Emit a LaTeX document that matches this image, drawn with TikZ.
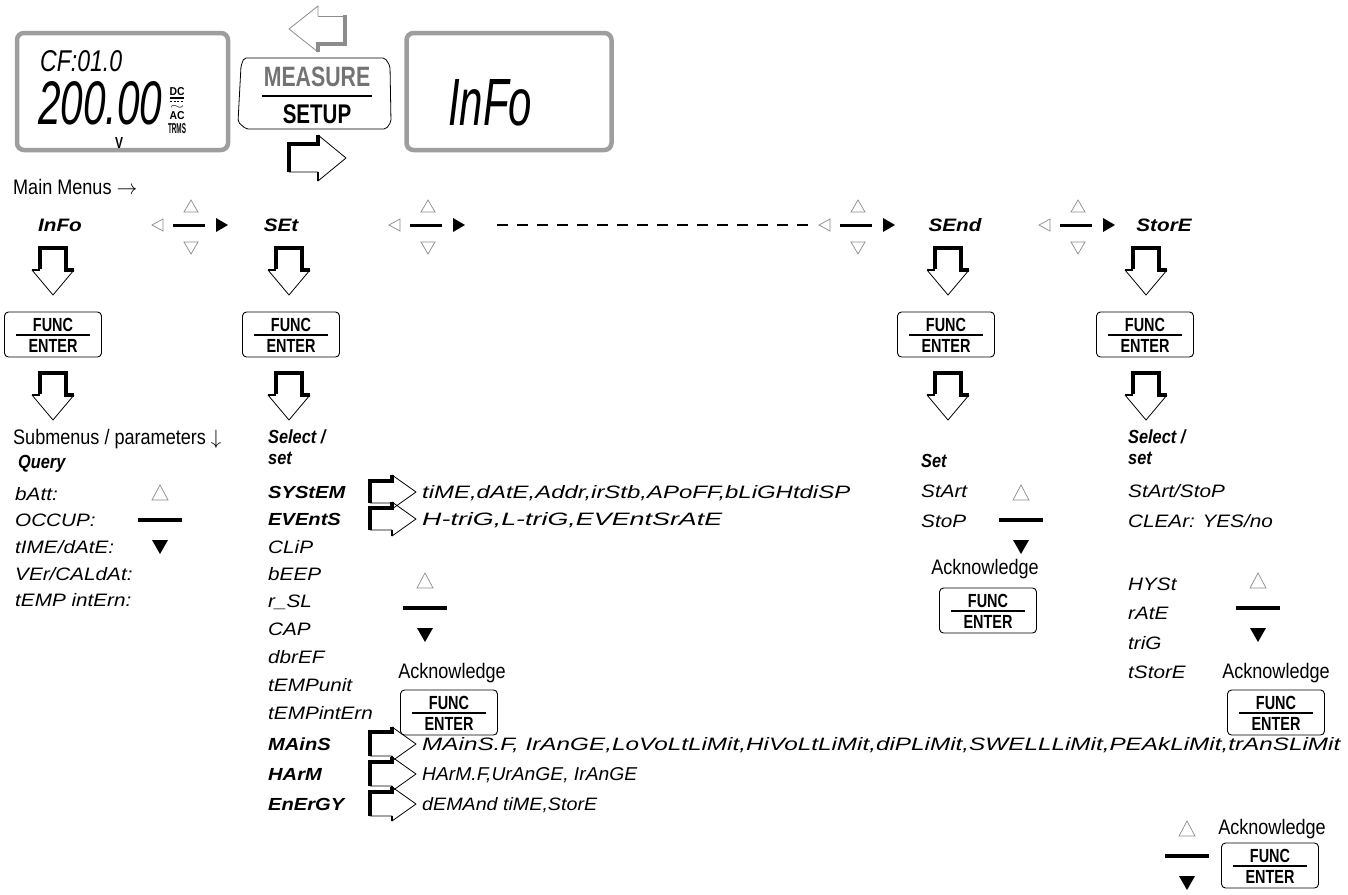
\documentclass[tikz,border=0pt]{standalone}
\usepackage{fontspec}
\setmainfont{Liberation Sans}
\newfontfamily\keyf[FakeStretch=0.76]{Liberation Sans}
\newfontfamily\condf[FakeStretch=0.86]{Liberation Sans}
\newfontfamily\segf[FakeStretch=1.15]{Liberation Sans}
\usetikzlibrary{calc}
\definecolor{lcdgray}{gray}{0.62}
\definecolor{trigray}{gray}{0.55}
\definecolor{measgray}{gray}{0.45}
\newcommand\segtext[3]{\resizebox{#1pt}{#2pt}{\segf\itshape #3}}
\newcommand\navh[2]{%
  \draw[trigray,line width=0.7pt] (#1-7,#2-13) -- (#1,#2-25) -- (#1+7,#2-13) -- cycle;
  \draw[trigray,line width=0.7pt] (#1-7,#2+17) -- (#1+7,#2+17) -- (#1,#2+29) -- cycle;
  \draw[trigray,line width=0.7pt] (#1-28,#2-6) -- (#1-39,#2) -- (#1-28,#2+6) -- cycle;
  \draw[line width=3pt] (#1-18,#2) -- (#1+14,#2);
  \fill (#1+25,#2-7) -- (#1+37,#2) -- (#1+25,#2+7) -- cycle;}
\newcommand\navv[2]{%
  \draw[trigray,line width=0.7pt] (#1-8,#2-20) -- (#1,#2-35) -- (#1+8,#2-20) -- cycle;
  \draw[line width=3.5pt] (#1-22,#2) -- (#1+22,#2);
  \fill (#1-8,#2+20) -- (#1+8,#2+20) -- (#1,#2+34) -- cycle;}
\newcommand\pdarrow[2]{%
  \draw[line width=0.8pt, line join=round] (#1-21,#2+22) -- (#1,#2+47) -- (#1+21,#2+22);
  \draw[line width=4pt] (#1-13,#2+21) -- (#1-13,#2) -- (#1+13,#2) -- (#1+13,#2+22) -- (#1+21,#2+22);
  \draw[line width=2.5pt] (#1-21,#2+22) -- (#1-13,#2+22);}
\newcommand\prarrow[6]{%
  \draw[line width=0.8pt, line join=round] (#4,#2-#5) -- (#6,#2) -- (#4,#2+#5) -- (#4,#2+#3) -- (#1,#2+#3);
  \draw[line width=4pt] (#1,#2+#3) -- (#1,#2-#3) -- (#4,#2-#3) -- (#4,#2-#5);
  \draw[line width=2.5pt] (#4,#2+#3) -- (#4,#2+#5);}
\newcommand\funckey[3]{%
  \node[keybox] (#1) at (#2,#3+22.5) {};
  \node[keytxt] (#1f) at (#2,#3+12.5) {FUNC};
  \draw[line width=2.2pt] (#2-37,#3+23) -- (#2+37,#3+23);
  \node[keytxt] (#1e) at (#2,#3+34) {ENTER};}
\begin{document}
\begin{tikzpicture}[x=1pt,y=-1pt,
  lab/.style={font=\condf\fontsize{21}{23}\selectfont, inner sep=0pt},
  labi/.style={font=\condf\bfseries\itshape\fontsize{19}{21}\selectfont, inner sep=0pt, anchor=base west},
  seg/.style={font=\segf\itshape\fontsize{18}{20}\selectfont, inner sep=0pt, anchor=base west},
  segb/.style={font=\segf\bfseries\itshape\fontsize{17.5}{20}\selectfont, inner sep=0pt, anchor=base west},
  menu/.style={font=\segf\bfseries\itshape\fontsize{18}{20}\selectfont, inner sep=0pt},
  keytxt/.style={font=\keyf\bfseries\fontsize{19}{20}\selectfont, inner sep=0pt},
  keybox/.style={draw, line width=0.9pt, rounded corners=4pt, minimum width=97pt, minimum height=45pt, inner sep=0pt},
  lcdbox/.style={draw=lcdgray, line width=4.5pt, rounded corners=7pt, inner sep=0pt},
  small/.style={inner sep=0pt, font=\keyf\bfseries}]
\useasboundingbox[fill=white] (0,0) rectangle (1348,894);

% ---------- top displays ----------
\node[lcdbox, minimum width=211pt, minimum height=117pt] (lcd1) at (122.5,91.5) {};
\node[anchor=base west, inner sep=0pt] (cf) at (40,71) {\segtext{82}{21}{CF:01.0}};
\node[anchor=base west, inner sep=0pt] (val) at (38,124) {\segtext{124}{43}{200.00}};
\node[small] (volt) at (119,143) {\resizebox{8pt}{11pt}{V}};
\node[small] (dc) at (177,92) {\resizebox{15pt}{8pt}{DC}};
\draw[line width=1.2pt] (170,98) -- (184,98);
\draw[line width=1.2pt, dash pattern=on 2pt off 1.5pt] (170,101.5) -- (184,101.5);
\node[small] (tilde) at (177,107) {\resizebox{14pt}{4pt}{$\sim$}};
\node[small] (ac) at (177,116) {\resizebox{15pt}{8pt}{AC}};
\node[small] (trms) at (177,129) {\resizebox{18pt}{10pt}{TRMS}};

\draw[line width=0.8pt, rounded corners=2pt] (244,58) -- (385,58) -- (390,66) -- (391,122) -- (386,129) -- (246,129) -- (238,122) -- (241,66) -- cycle;
\node[font=\keyf\bfseries\fontsize{28}{30}\selectfont, text=measgray, inner sep=0pt] (meas) at (317,77) {MEASURE};
\draw[line width=2.4pt] (262,96) -- (372,96);
\node[font=\keyf\bfseries\fontsize{27}{29}\selectfont, inner sep=0pt] (setup) at (317,114) {SETUP};

\draw[trigray, line width=0.8pt, line join=round] (318,16) -- (318,6) -- (289,29) -- (318,52);
\draw[trigray, line width=0.8pt] (318,16) -- (345,16);
\draw[trigray, line width=3.5pt] (318,52) -- (318,44) -- (345,44) -- (345,15);
\prarrow{289}{158}{14}{318}{23}{346}

\node[lcdbox, minimum width=205pt, minimum height=117pt] (lcd2) at (509,91.5) {};
\node[anchor=base west, inner sep=0pt] (infolcd) at (448,125) {\segtext{84}{46}{InFo}};

% ---------- main menus ----------
\node[lab, anchor=west] (mm) at (13,187) {Main Menus $\rightarrow$};
\node[menu] (minfo) at (60,225) {InFo};
\node[menu] (mset) at (281,225) {SEt};
\node[menu] (msend) at (955,225) {SEnd};
\node[menu] (mstore) at (1164,225) {StorE};
\navh{191}{225}
\navh{428}{225}
\navh{858}{225}
\navh{1078}{225}
\coordinate (d1) at (497,225);
\coordinate (d2) at (812,225);
\draw[line width=2.4pt, dash pattern=on 11pt off 9pt] (d1) -- (d2);

% column arrows and keys
\pdarrow{53}{248}
\funckey{k1}{53}{312}
\pdarrow{53}{373}
\pdarrow{289}{248}
\funckey{k2}{291}{312}
\pdarrow{289}{373}
\pdarrow{948}{248}
\funckey{k3}{946}{312}
\pdarrow{948}{373}
\pdarrow{1146}{248}
\funckey{k4}{1145}{312}
\pdarrow{1146}{373}

% ---------- Info column ----------
\node[lab, anchor=base west] (sub) at (13,444) {Submenus / parameters $\downarrow$};
\node[labi] (query) at (18,468) {Query};
\node[seg] (i1) at (15,500) {bAtt:};
\node[seg] (i2) at (15,526) {OCCUP:};
\node[seg] (i3) at (15,553) {tIME/dAtE:};
\node[seg] (i4) at (15,580) {VEr/CALdAt:};
\node[seg] (i5) at (15,606) {tEMP intErn:};
\navv{160}{520}

% ---------- Set column ----------
\node[labi] (sel) at (268,443) {Select /};
\node[labi] (sset) at (268,464) {set};
\node[segb] (s1) at (268,498) {SYStEM};
\node[segb] (s2) at (268,525) {EVEntS};
\node[seg] (s3) at (268,553) {CLiP};
\node[seg] (s4) at (268,580) {bEEP};
\node[seg] (s5) at (268,607) {r\_SL};
\node[seg] (s6) at (268,635) {CAP};
\node[seg] (s7) at (268,663) {dbrEF};
\node[seg] (s8) at (268,691) {tEMPunit};
\node[seg] (s9) at (268,719) {tEMPintErn};
\node[segb] (s10) at (268,750) {MAinS};
\node[segb] (s11) at (268,780) {HArM};
\node[segb] (s12) at (268,810) {EnErGY};

\prarrow{370}{492}{11}{392}{17}{416}
\node[anchor=base west, inner sep=0pt] (t1) at (422,498) {\segtext{428}{13}{tiME,dAtE,Addr,irStb,APoFF,bLiGHtdiSP}};
\prarrow{370}{519}{11}{392}{17}{416}
\node[anchor=base west, inner sep=0pt] (t2) at (422,525) {\segtext{300}{13}{H-triG,L-triG,EVEntSrAtE}};
\prarrow{370}{744}{12}{392}{17}{416}
\node[anchor=base west, inner sep=0pt] (t3) at (422,750) {\segtext{918}{13}{MAinS.F, IrAnGE,LoVoLtLiMit,HiVoLtLiMit,diPLiMit,SWELLLiMit,PEAkLiMit,trAnSLiMit}};
\prarrow{370}{774}{12}{392}{17}{416}
\node[anchor=base west, inner sep=0pt] (t4) at (422,780) {\segtext{215}{13}{HArM.F,UrAnGE, IrAnGE}};
\prarrow{370}{804}{12}{392}{17}{416}
\node[anchor=base west, inner sep=0pt] (t5) at (422,810) {\segtext{175}{13}{dEMAnd tiME,StorE}};

\navv{425}{608}
\node[lab] (ack1) at (452,673) {Acknowledge};
\funckey{k5}{449}{690}

% ---------- Send column ----------
\node[labi] (sendset) at (921,467) {Set};
\node[seg] (e1) at (921,497) {StArt};
\node[seg] (e2) at (921,527) {StoP};
\navv{1021}{520}
\node[lab] (ack2) at (985,569) {Acknowledge};
\funckey{k6}{988}{588}

% ---------- Store column ----------
\node[labi] (stsel) at (1128,443) {Select /};
\node[labi] (stset) at (1128,464) {set};
\node[seg] (r1) at (1128,497) {StArt/StoP};
\node[seg] (r2) at (1128,527) {CLEAr: YES/no};
\node[seg] (r3) at (1128,590) {HYSt};
\node[seg] (r4) at (1128,619) {rAtE};
\node[seg] (r5) at (1128,649) {triG};
\node[seg] (r6) at (1128,678) {tStorE};
\navv{1258}{608}
\node[lab] (ack3) at (1276,673) {Acknowledge};
\funckey{k7}{1276}{690}

% ---------- bottom right ----------
\navv{1187}{856}
\node[lab] (ack4) at (1272,829) {Acknowledge};
\funckey{k8}{1270}{843}
\end{tikzpicture}
\end{document}
